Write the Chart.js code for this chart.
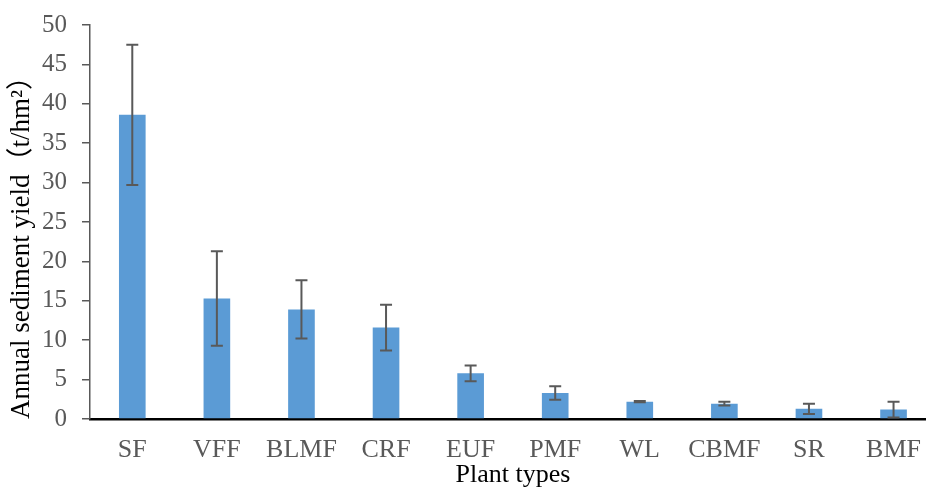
<!DOCTYPE html>
<html>
<head>
<meta charset="utf-8">
<script src="https://cdn.jsdelivr.net/npm/chart.js@4/dist/chart.umd.min.js"></script>
<style>
  html, body { margin: 0; padding: 0; background: #fff; overflow: hidden; }
  #wrap { position: relative; width: 937px; height: 488px; }
</style>
</head>
<body>
<div id="wrap"><canvas id="c"></canvas></div>
<script>
const categories = ["SF", "VFF", "BLMF", "CRF", "EUF", "PMF", "WL", "CBMF", "SR", "BMF"];
const sedimentYield = [38.6, 15.3, 13.9, 11.6, 5.8, 3.3, 2.2, 1.95, 1.3, 1.2];
const errorValues = [8.9, 6.0, 3.7, 2.9, 1.0, 0.85, 0.08, 0.25, 0.65, 1.0];
const yTicks = [0, 5, 10, 15, 20, 25, 30, 35, 40, 45, 50];

const serif = '"Liberation Serif", "Times New Roman", "Noto Sans CJK SC", serif';

const errorBarPlugin = {
  id: 'errorBars',
  afterDatasetsDraw(chart) {
    const ctx = chart.ctx;
    const meta = chart.getDatasetMeta(0);
    const y = chart.scales.y;
    ctx.save();
    ctx.strokeStyle = '#595959';
    ctx.lineWidth = 2;
    meta.data.forEach((bar, i) => {
      const v = sedimentYield[i];
      const e = errorValues[i];
      const yTop = y.getPixelForValue(v + e);
      const yBot = y.getPixelForValue(v - e);
      const x = bar.x;
      const cap = 6;
      ctx.beginPath();
      ctx.moveTo(x, yTop); ctx.lineTo(x, yBot);
      ctx.moveTo(x - cap, yTop); ctx.lineTo(x + cap, yTop);
      ctx.moveTo(x - cap, yBot); ctx.lineTo(x + cap, yBot);
      ctx.stroke();
    });
    ctx.restore();
  }
};

new Chart(document.getElementById('c'), {
  type: 'bar',
  data: {
    labels: categories,
    datasets: [{
      data: sedimentYield,
      backgroundColor: '#5B9BD5',
      borderWidth: 0,
      barPercentage: 0.315,
      categoryPercentage: 1.0
    }]
  },
  plugins: [errorBarPlugin],
  options: {
    responsive: true,
    maintainAspectRatio: false,
    animation: false,
    devicePixelRatio: 1,
    layout: { padding: { top: 25, right: 0, bottom: 0, left: 0 } },
    plugins: { legend: { display: false }, tooltip: { enabled: false } },
    scales: {
      x: {
        grid: { display: false, drawTicks: false },
        border: { display: true, color: '#000000', width: 2.5 },
        ticks: { color: '#595959', font: { family: serif, size: 26 }, padding: 16, maxRotation: 0, autoSkip: false },
        title: { display: true, text: 'Plant types', color: '#000000', font: { family: serif, size: 26, lineHeight: 1.0 }, padding: { top: 0, bottom: 0 } },
        afterFit(s) { s.height = 69; }
      },
      y: {
        min: 0,
        max: 50,
        afterBuildTicks(s) { s.ticks = yTicks.map(v => ({ value: v })); },
        grid: { drawOnChartArea: false, drawTicks: true, tickLength: 8, color: '#595959', lineWidth: 1.5 },
        border: { display: true, color: '#595959', width: 1.5 },
        ticks: { color: '#595959', font: { family: serif, size: 25, lineHeight: 0.8 }, padding: 15 },
        title: { display: true, align: 'start', text: 'Annual sediment yield（t/hm²）', color: '#000000', font: { family: serif, size: 27 }, padding: { top: 6, bottom: 0 } },
        afterFit(s) { s.width = 90; }
      }
    }
  }
});
</script>
</body>
</html>
